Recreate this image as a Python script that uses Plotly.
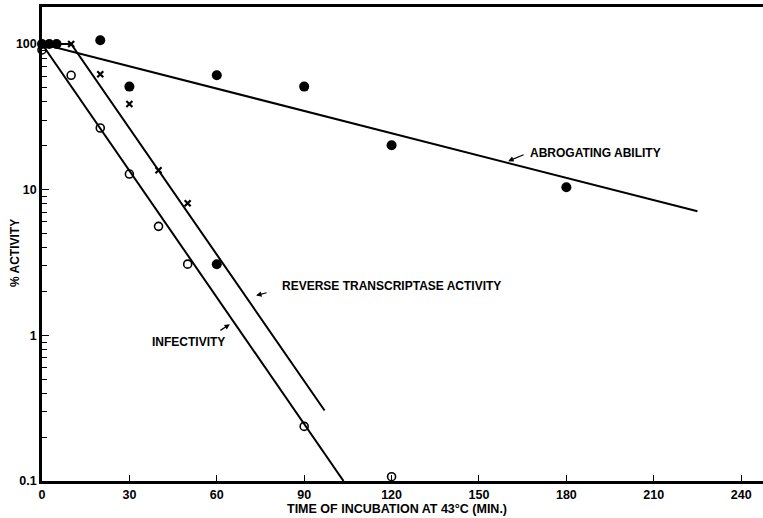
import numpy as np
import plotly.graph_objects as go

# Abrogating ability (filled circles)
abr_t = [0, 2.5, 5, 20, 30, 60, 90, 120, 180, 60]
abr_v = [100, 100, 100, 106, 51, 61, 51, 20.2, 10.4, 3.08]
# Infectivity (open circles)
inf_t = [0, 10, 20, 30, 40, 50, 90, 120]
inf_v = [91, 61, 26.5, 12.8, 5.6, 3.08, 0.237, 0.107]
# Reverse transcriptase activity (x)
rt_t = [0, 10, 20, 30, 40, 50]
rt_v = [100, 100, 62, 38.7, 13.6, 8.07]

# fitted lines (endpoints)
abr_fit_t = [0, 225]
abr_fit_v = [100, 7.1]
inf_fit_t = [0, 103.5]
inf_fit_v = [100, 0.1]
rt_fit_t = [0, 10, 97]
rt_fit_v = [100, 100, 0.305]

x_ticks = [0, 30, 60, 90, 120, 150, 180, 210, 240]
y_ticks = [0.1, 1, 10, 100]
y_tick_text = ["0.1", "1", "10", "100"]
y_minor = [m * d for d in [0.1, 1, 10, 100] for m in range(2, 10) if m * d < 180]

FONT = "Liberation Sans"
fig = go.Figure()
line_style = dict(color="black", width=2)
for t, v in [(abr_fit_t, abr_fit_v), (inf_fit_t, inf_fit_v), (rt_fit_t, rt_fit_v)]:
    fig.add_trace(go.Scatter(x=t, y=v, mode="lines", line=line_style,
                             showlegend=False, hoverinfo="skip", cliponaxis=False))

fig.add_trace(go.Scatter(x=abr_t, y=abr_v, mode="markers", cliponaxis=False,
                         marker=dict(symbol="circle", size=10, color="black"),
                         showlegend=False, name="Abrogating ability"))
fig.add_trace(go.Scatter(x=inf_t, y=inf_v, mode="markers", cliponaxis=False,
                         marker=dict(symbol="circle-open", size=8, color="black",
                                     line=dict(width=1.6, color="black")),
                         showlegend=False, name="Infectivity"))
fig.add_trace(go.Scatter(x=rt_t, y=rt_v, mode="markers", cliponaxis=False,
                         marker=dict(symbol="x-thin-open", size=6, color="black",
                                     line=dict(width=2.2, color="black")),
                         showlegend=False, name="Reverse transcriptase activity"))

lab_font = dict(family=FONT, size=12, color="black")
labels = [
    ("<b>ABROGATING ABILITY</b>", 166.8, 17.8),
    ("<b>REVERSE TRANSCRIPTASE ACTIVITY</b>", 81.7, 2.17),
    ("<b>INFECTIVITY</b>", 37.1, 0.895),
]
for txt, x, y in labels:
    fig.add_annotation(x=x, y=np.log10(y), text=txt, showarrow=False,
                       xanchor="left", yanchor="middle", font=lab_font)

arrows = [(160, 15.7, 17, -7), (73.5, 1.88, 12, -3), (64.5, 1.19, -11, 7)]
for x, y, ax, ay in arrows:
    fig.add_annotation(x=x, y=np.log10(y), text="", showarrow=True,
                       arrowhead=2, arrowsize=0.9, arrowwidth=1.2,
                       arrowcolor="black", ax=ax, ay=ay)

# axis titles
fig.add_annotation(xref="paper", yref="paper", x=0.492, y=-0.059,
                   text="<b>TIME OF INCUBATION AT 43°C (MIN.)</b>", showarrow=False,
                   xanchor="center", yanchor="middle",
                   font=dict(family=FONT, size=12.5, color="black"))
fig.add_annotation(xref="paper", yref="paper", x=-0.0374, y=0.481,
                   text="<b>% ACTIVITY</b>", showarrow=False, textangle=-90,
                   xanchor="center", yanchor="middle",
                   font=dict(family=FONT, size=12, color="black"))

fig.update_layout(
    width=763, height=518,
    margin=dict(l=42, r=0, t=7, b=37, autoexpand=False),
    paper_bgcolor="white", plot_bgcolor="white",
    font=dict(family=FONT, color="black"),
    showlegend=False,
)
fig.update_xaxes(
    range=[0, 247.5], tickvals=x_ticks, automargin=False,
    ticktext=[f"<b>{v}</b>" for v in x_ticks],
    ticks="inside", ticklen=6, tickwidth=1.2, tickcolor="black",
    showline=True, linecolor="black", linewidth=2.5, mirror=True,
    showgrid=False, zeroline=False,
    tickfont=dict(family=FONT, size=12.5, color="black"),
)
fig.update_yaxes(
    type="log", range=[-1, 2.254], tickvals=y_ticks, automargin=False,
    ticktext=[f"<b>{t}</b>" for t in y_tick_text],
    ticks="inside", ticklen=7, tickwidth=1.2, tickcolor="black",
    minor=dict(tickvals=y_minor, ticks="inside", ticklen=5, tickwidth=1, tickcolor="black"),
    showline=True, linecolor="black", linewidth=2.5,
    showgrid=False, zeroline=False,
    tickfont=dict(family=FONT, size=12.5, color="black"),
)

fig.write_html("out.html", config={"displayModeBar": False},
               post_script="document.body.style.margin='0px';")
